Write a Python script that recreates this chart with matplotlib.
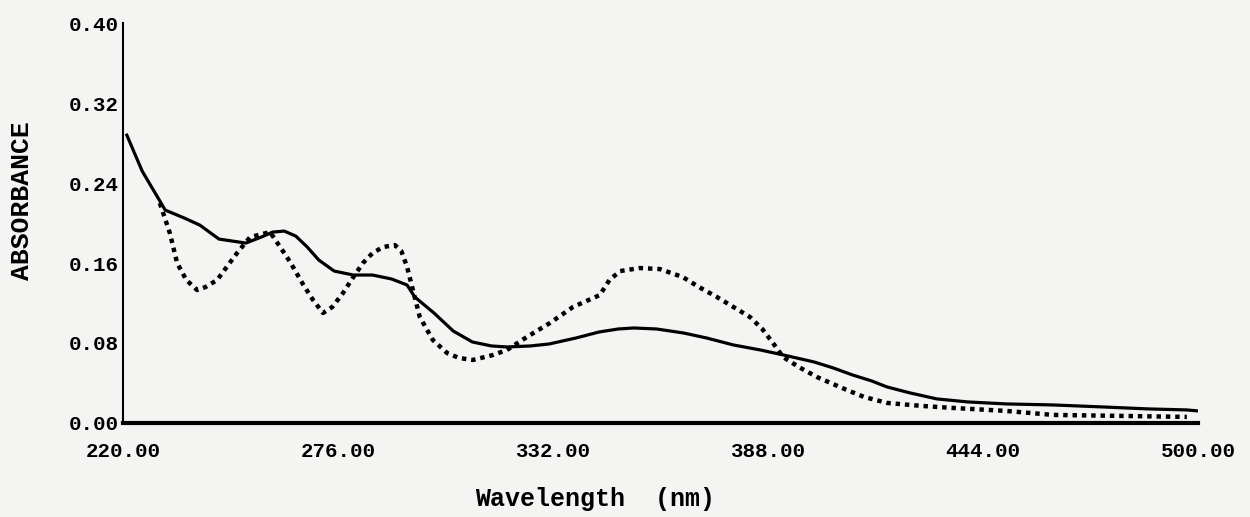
import matplotlib.pyplot as plt

# solid trace (wavelength nm, absorbance)
wl_solid = [221, 225, 231, 236, 240, 245, 252, 256, 259, 262, 265, 268, 271, 275, 280, 285,
            290, 294, 296, 301, 306, 311, 316, 320, 326, 331, 338, 344, 349, 353, 359,
            366, 372, 379, 386, 392, 400, 405, 410, 415, 419, 425, 432, 440, 450, 462, 475,
            487, 497, 500]
abs_solid = [0.288, 0.252, 0.213, 0.205, 0.198, 0.184, 0.180, 0.186, 0.191, 0.192, 0.187, 0.176,
             0.163, 0.152, 0.148, 0.148, 0.144, 0.138, 0.126, 0.110, 0.092, 0.081, 0.077,
             0.076, 0.077, 0.079, 0.085, 0.091, 0.094, 0.095, 0.094, 0.090, 0.085, 0.078,
             0.073, 0.068, 0.061, 0.055, 0.048, 0.042, 0.036, 0.030, 0.024, 0.021, 0.019,
             0.018, 0.016, 0.014, 0.013, 0.012]

# dotted trace
wl_dot = [229.6, 232.2, 234.1, 236.5, 239.3, 241.5, 244.5, 247, 249.7, 253.1, 258.3, 262.7,
          264.3, 267, 269.5, 272.1, 274.5, 277.3, 280, 282.5, 285, 287.7, 290.8, 292.5, 294,
          297.3, 300.7, 304.4, 307.5, 311.1, 316.4, 320, 325.2, 331.2, 337.2, 344.2, 346.7,
          349.5, 354.6, 359.8, 365.8, 370, 374.7, 379, 383.3, 386.5, 389.3, 391.9, 396, 400.7,
          408.5, 413, 419, 428, 436.1, 450, 462.2, 480, 497.1]
abs_dot = [0.220, 0.190, 0.160, 0.143, 0.133, 0.136, 0.143, 0.156, 0.170, 0.186, 0.191, 0.166,
           0.156, 0.138, 0.123, 0.110, 0.116, 0.130, 0.146, 0.160, 0.170, 0.176, 0.178, 0.172,
           0.156, 0.106, 0.083, 0.070, 0.065, 0.063, 0.068, 0.073, 0.086, 0.100, 0.116, 0.128,
           0.143, 0.152, 0.155, 0.154, 0.146, 0.136, 0.126, 0.116, 0.106, 0.094, 0.080, 0.066,
           0.056, 0.046, 0.033, 0.026, 0.020, 0.017, 0.015, 0.012, 0.008, 0.007, 0.006]

x_ticks = [220, 276, 332, 388, 444, 500]
x_labels = ['220.00', '276.00', '332.00', '388.00', '444.00', '500.00']
y_ticks = [0.00, 0.08, 0.16, 0.24, 0.32, 0.40]
y_labels = ['0.00', '0.08', '0.16', '0.24', '0.32', '0.40']

mono = 'Liberation Mono'

fig = plt.figure(figsize=(12.5, 5.17), dpi=100, facecolor='#f4f4f2')
ax = fig.add_axes([0.0984, 0.182, 0.86, 0.773])
ax.set_facecolor('#f4f4f2')

ax.plot(wl_solid, abs_solid, color='black', lw=2.3, solid_joinstyle='round')
ax.plot(wl_dot, abs_dot, color='black', lw=3.2, linestyle=(0, (1.0, 1.1)))

ax.set_xlim(220, 500)
ax.set_ylim(0, 0.40)

for s in ['top', 'right']:
    ax.spines[s].set_visible(False)
ax.spines['left'].set_linewidth(1.5)
ax.spines['bottom'].set_linewidth(3)

ax.set_xticks(x_ticks)
ax.set_xticklabels(x_labels, fontfamily=mono, fontweight='bold', fontsize=15)
ax.set_yticks(y_ticks)
ax.set_yticklabels(y_labels, fontfamily=mono, fontweight='bold', fontsize=15)
ax.tick_params(axis='x', length=0, pad=14)
ax.tick_params(axis='y', length=0, pad=3)

ax.set_xlabel('Wavelength  (nm)', fontfamily=mono, fontweight='bold', fontsize=18, va='center')
ax.xaxis.set_label_coords(0.439, -0.19)
ax.set_ylabel('ABSORBANCE', fontfamily=mono, fontweight='bold', fontsize=19, va='center')
ax.yaxis.set_label_coords(-0.094, 0.555)

plt.savefig('out.png', dpi=100, facecolor=fig.get_facecolor())
